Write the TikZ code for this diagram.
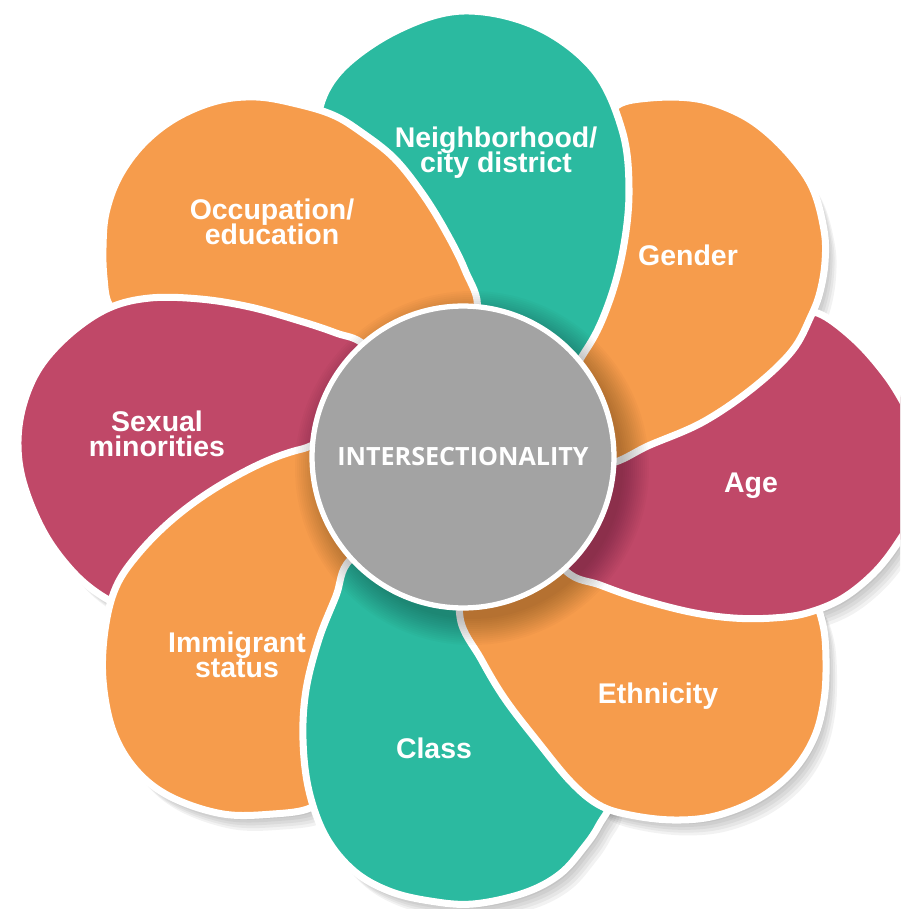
\documentclass[tikz,border=0pt]{standalone}
\usepackage{fontspec}
\setmainfont{Liberation Sans}
\newfontfamily\hubfont{Open Sans}
\usepackage{tikz}

\definecolor{petalteal}{HTML}{2BBAA0}
\definecolor{petalorange}{HTML}{F69C4C}
\definecolor{petalrose}{HTML}{C04868}
\definecolor{hubgray}{HTML}{A3A3A3}

\newcommand{\petalfont}{\fontsize{16.2}{14.2}\selectfont\bfseries\lineskiplimit=-\maxdimen}
\newcommand{\centerfont}{\hubfont\fontsize{14.3}{16}\selectfont\bfseries}

\newcommand{\petalOccupation}{plot[smooth cycle, tension=.6] coordinates {(405,390) (335,358) (262,337) (182,332) (128,322) (109,304) (104,278) (103,247) (106,213) (119,177) (143,144) (176,118) (217,101) (257,97) (297,104) (333,115) (361,132) (394,158) (422,193) (445,230) (465,270) (477,310) (450,360)}}
\newcommand{\petalSexual}{plot[smooth cycle, tension=.6] coordinates {(375,455) (320,520) (250,578) (180,607) (130,606) (107,599) (76,575) (46,536) (25,488) (18,447) (23,406) (40,367) (71,333) (109,308) (150,298) (200,299) (250,307) (300,321) (336,333) (366,346) (410,395)}}
\newcommand{\petalImmigrant}{plot[smooth cycle, tension=.6] coordinates {(400,500) (365,565) (340,640) (328,700) (325,760) (326,790) (310,808) (273,814) (223,814) (171,797) (136,770) (113,731) (103,680) (105,630) (116,587) (139,553) (173,519) (214,489) (262,463) (302,449) (335,446)}}
\newcommand{\petalClass}{plot[smooth cycle, tension=.6] coordinates {(470,545) (505,620) (545,700) (588,765) (611,797) (599,825) (585,846) (560,874) (524,893) (473,904) (430,901) (389,891) (354,871) (326,837) (309,791) (303,740) (306,690) (319,639) (336,596) (350,560) (400,530)}}
\newcommand{\petalEthnicity}{plot[smooth cycle, tension=.6] coordinates {(530,512) (630,565) (730,590) (790,593) (812,598) (823,625) (826,660) (824,700) (814,738) (792,772) (758,799) (715,816) (673,820) (630,815) (599,805) (571,782) (538,742) (505,699) (481,659) (460,617) (468,560)}}
\newcommand{\petalAge}{plot[smooth cycle, tension=.6] coordinates {(560,450) (650,417) (722,378) (772,334) (800,314) (822,315) (856,341) (885,374) (904,404) (919,435) (926,467) (919,505) (901,538) (876,571) (843,598) (807,613) (773,618) (733,618) (690,612) (640,599) (600,585) (566,571) (530,520)}}
\newcommand{\petalGender}{plot[smooth cycle, tension=.6] coordinates {(520,410) (566,320) (588,230) (598,165) (604,128) (618,105) (650,98) (690,98) (722,106) (755,123) (787,152) (812,187) (824,230) (825,262) (820,292) (811,316) (792,351) (753,388) (703,422) (650,445) (605,464) (555,450)}}
\newcommand{\petalNeighborhood}{plot[smooth cycle, tension=.6] coordinates {(452,430) (405,330) (355,235) (324,160) (319,112) (342,69) (398,30) (463,11) (535,26) (593,69) (622,130) (629,190) (623,250) (608,305) (586,350) (545,400)}}

\begin{document}
\begin{tikzpicture}[x=0.02cm, y=-0.02cm,
	petal/.style={fill=#1, draw=white, line width=4pt, line join=round},
	petalshade/.style={fill=black, fill opacity=.05},
	petaltext/.style={text=white, font=\petalfont, align=center},
	hubdisc/.style={circle, fill=hubgray, draw=white, line width=3pt, minimum size=6.04cm, inner sep=0pt, text=white, font=\centerfont}]
	\useasboundingbox (0,0) rectangle (900,909);
	\clip (0,0) rectangle (900,909);
	\coordinate(core) at (463,457);

	\foreach \s in {3,5,7,9,11}
		\foreach \p in {\petalOccupation,\petalSexual,\petalImmigrant,\petalClass,\petalEthnicity,\petalAge,\petalGender,\petalNeighborhood}
			\fill[petalshade, shift={(\s,1.4*\s)}] \p;

	\path[petal=petalorange]	\petalOccupation;
	\path[petal=petalrose]		\petalSexual;
	\path[petal=petalorange]	\petalImmigrant;
	\path[petal=petalteal]		\petalClass;
	\path[petal=petalorange]	\petalEthnicity;
	\path[petal=petalrose]		\petalAge;
	\path[petal=petalorange]	\petalGender;
	\path[petal=petalteal]		\petalNeighborhood;
	\begin{scope}
		\clip (250,0) -- (530,0) -- (530,330) -- (340,330) -- (300,298) -- (250,288) -- cycle;
		\path[petal=petalorange]	\petalOccupation;
	\end{scope}

	\foreach \r in {151,153,...,177}
		\fill[black, fill opacity=.02] ([shift={(9,11)}]core) circle[radius=\r*0.02cm];

	\node(hub)			[hubdisc] at (core) {INTERSECTIONALITY};

	\node(neighborhood)	[petaltext] at (496,153) {Neighborhood/\\city district};
	\node(gender)		[petaltext, anchor=base] at (688,265) {Gender};
	\node(age)			[petaltext, anchor=base] at (751,492) {Age};
	\node(ethnicity)	[petaltext, anchor=base] at (658,703) {Ethnicity};
	\node(class)		[petaltext, anchor=base] at (434,758) {Class};
	\node(immigrant)	[petaltext] at (237,655) {Immigrant\\status};
	\node(sexual)		[petaltext] at (157,434) {Sexual\\minorities};
	\node(occupation)	[petaltext] at (272,222) {Occupation/\\education};
\end{tikzpicture}
\end{document}
